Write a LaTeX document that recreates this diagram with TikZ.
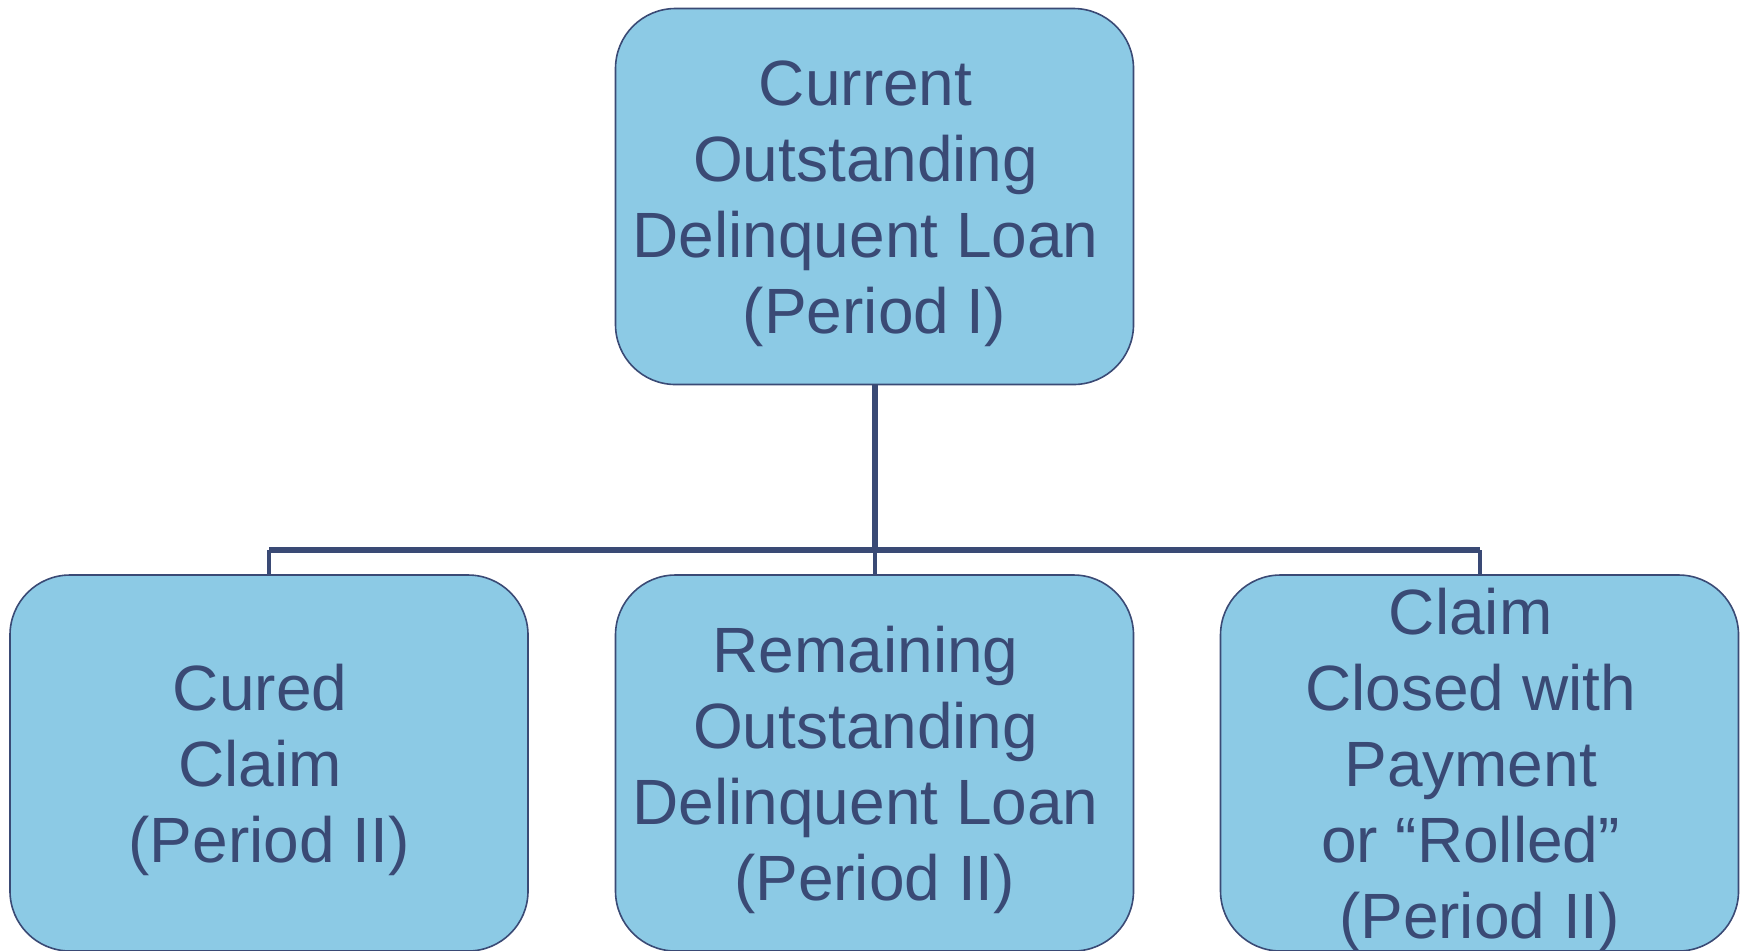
\documentclass[tikz,border=0pt]{standalone}
\usepackage{fontspec}
\setmainfont{Liberation Sans}
\definecolor{boxfill}{HTML}{8CCAE5}
\definecolor{ink}{HTML}{3A4A75}
\newcommand\tsp{\kern\fontdimen2\font}
\begin{document}
\begin{tikzpicture}[x=0.5pt,y=-0.5pt,
  boxnode/.style={draw=ink, line width=0.8pt, fill=boxfill, rounded corners=30pt,
    minimum width=259pt, minimum height=188pt, inner sep=0pt},
  boxtext/.style={inner sep=0pt, align=center, text=ink,
    font=\fontsize{32}{38}\selectfont},
  conn/.style={draw=ink, line width=3pt},
  stub/.style={draw=ink, line width=2pt}]
\useasboundingbox (0,0) rectangle (1748,950);
\node[boxnode] (top) at (874.5,196.5) {};
\node[boxnode] (left) at (269,763) {};
\node[boxnode] (mid) at (874.5,763) {};
\node[boxnode] (right) at (1479.5,763) {};
\node[boxtext] (topT) at ([yshift=-3.6pt]top.center) {Current\tsp\\Outstanding\tsp\\Delinquent Loan\tsp\\(Period I)};
\node[boxtext] (leftT) at ([yshift=-3.6pt]left.center) {Cured\tsp\\Claim\tsp\\(Period II)};
\node[boxtext] (midT) at ([yshift=-3.6pt]mid.center) {Remaining\tsp\\Outstanding\tsp\\Delinquent Loan\tsp\\(Period II)};
\node[boxtext] (rightT) at ([yshift=-3.6pt]right.center) {Claim\tsp\\Closed with\tsp\\Payment\tsp\\or ``Rolled''\tsp\\(Period II)};
\coordinate (busy) at (0,550);
\draw[conn] (top.south) -- (top.south |- busy);
\draw[conn] (left.north |- busy) -- (right.north |- busy);
\draw[stub] (left.north |- busy) -- (left.north);
\draw[stub] (right.north |- busy) -- (right.north);
\draw[stub] (mid.north |- busy) -- (mid.north);
\end{tikzpicture}
\end{document}
